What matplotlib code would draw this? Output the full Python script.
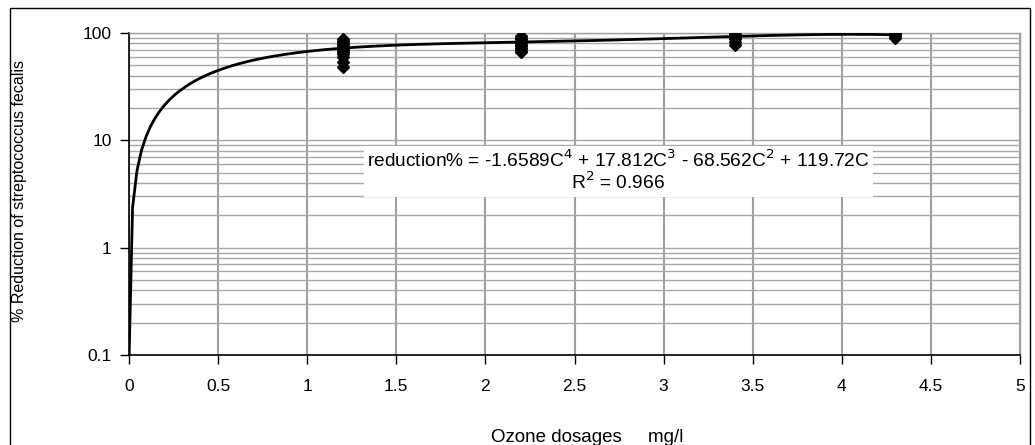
import numpy as np
import matplotlib
matplotlib.use("Agg")
import matplotlib.pyplot as plt
from matplotlib.patches import Rectangle

plt.rcParams['font.family'] = ['Liberation Sans', 'DejaVu Sans']

# Observed data (ozone dose mg/l, % reduction)
dose_12 = [1.2] * 12
red_12 = [88, 85, 82, 79, 76, 73, 70, 67, 64, 60, 54, 48]
dose_22 = [2.2] * 10
red_22 = [94, 90, 87, 84, 81, 78, 75, 72, 69, 67]
dose_34 = [3.4] * 7
red_34 = [98, 96, 94, 92, 88, 83, 78]
dose_43 = [4.3] * 4
red_43 = [100, 97, 94, 90]

# Trendline coefficients shown on the chart (C^4, C^3, C^2, C^1, C^0)
trend_coef = [-1.6589, 17.812, -68.562, 119.72, 0.0]
trend_start = 0.00084
trend_end = 4.3

xticks = [0, 0.5, 1, 1.5, 2, 2.5, 3, 3.5, 4, 4.5, 5]
xticklabels = ['0', '0.5', '1', '1.5', '2', '2.5', '3', '3.5', '4', '4.5', '5']
yticks = [0.1, 1, 10, 100]
yticklabels = ['0.1', '1', '10', '100']

fig = plt.figure(figsize=(10.35, 4.45), dpi=100)
ax = fig.add_axes([129/1035, 1 - 355/445, (1020-129)/1035, (355-33)/445])

# outer chart border
fig.patches.append(Rectangle((10/1035, -0.05), (1030-10)/1035, 1.05 - 8/445,
                             transform=fig.transFigure, fill=False,
                             edgecolor='black', linewidth=1.0))

# trendline sampled coarsely, as the spreadsheet draws it
cx = np.concatenate([[trend_start], np.arange(0.02, trend_end + 1e-9, 0.025)])
cy = np.polyval(trend_coef, cx)
ax.plot(cx, cy, color='black', linewidth=2.0, zorder=3, solid_joinstyle='round')

for dx, dy in [(dose_12, red_12), (dose_22, red_22), (dose_34, red_34), (dose_43, red_43)]:
    ax.plot(dx, dy, linestyle='none', marker='D', markersize=5.8,
            color='black', zorder=4)

ax.set_yscale('log')
ax.set_xlim(0, 5)
ax.set_ylim(0.1, 100)
ax.set_xticks(xticks)
ax.set_xticklabels(xticklabels)
ax.set_yticks(yticks)
ax.set_yticklabels(yticklabels)
ax.yaxis.set_minor_locator(matplotlib.ticker.LogLocator(base=10, subs=np.arange(2, 10)))
ax.yaxis.set_minor_formatter(matplotlib.ticker.NullFormatter())
ax.tick_params(axis='y', which='minor', length=0)
ax.tick_params(axis='both', which='major', direction='out', length=6.5,
               width=1, labelsize=12.5, colors='black')
ax.tick_params(axis='x', pad=11)
ax.tick_params(axis='y', pad=6)

ax.grid(True, axis='x', which='major', color='#a0a0a0', linewidth=1.5)
ax.grid(True, axis='y', which='both', color='#a8a8a8', linewidth=1.0)
ax.set_axisbelow(True)

for s in ['top', 'right']:
    ax.spines[s].set_color('#a0a0a0')
    ax.spines[s].set_linewidth(1.0)
for s in ['left', 'bottom']:
    ax.spines[s].set_color('black')
    ax.spines[s].set_linewidth(1.2)

ax.text(0.549, 0.570,
        'reduction% = -1.6589C$^{4}$ + 17.812C$^{3}$ - 68.562C$^{2}$ + 119.72C\nR$^{2}$ = 0.966',
        transform=ax.transAxes, ha='center', va='center', fontsize=13.8,
        linespacing=1.05, zorder=5,
        bbox=dict(facecolor='white', edgecolor='none', pad=2.5))

fig.text(587/1035, 1 - 438/445, 'Ozone dosages     mg/l', ha='center', va='center',
         fontsize=13.5)
fig.text(20/1035, 1 - 191/445, '% Reduction of streptococcus fecalis', rotation=90,
         ha='center', va='center', fontsize=11.5)

fig.savefig('out.png', dpi=100)
